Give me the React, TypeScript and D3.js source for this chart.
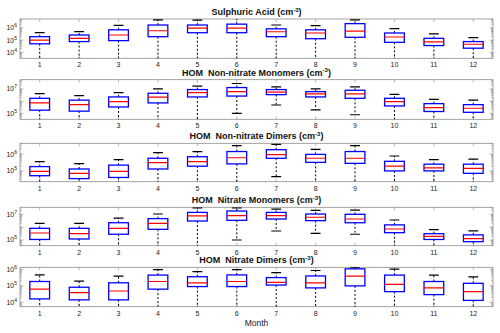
import * as d3 from "d3";
import React from "react";

// box stats per month: [low whisker, q1, median, q3, high whisker] in cm^-3
const months = [1, 2, 3, 4, 5, 6, 7, 8, 9, 10, 11, 12];

const sulphuricAcid = [
  [1e3, 5.0e4, 1.0e5, 1.9e5, 4.0e5],
  [1e3, 7.6e4, 1.4e5, 2.6e5, 5.0e5],
  [1e3, 9.1e4, 2.6e5, 6.9e5, 1.6e6],
  [1e3, 1.9e5, 5.8e5, 1.7e6, 4.4e6],
  [1e3, 4.0e5, 9.5e5, 1.7e6, 4.2e6],
  [1e3, 4.0e5, 9.5e5, 2.0e6, 6.0e6],
  [1e3, 1.9e5, 4.8e5, 8.3e5, 1.7e6],
  [1e3, 1.3e5, 3.8e5, 6.9e5, 1.5e6],
  [1e3, 1.7e5, 5.5e5, 2.2e6, 4.4e6],
  [1e3, 6.6e4, 1.8e5, 3.8e5, 8.7e5],
  [1e3, 3.6e4, 7.2e4, 1.4e5, 3.2e5],
  [1e3, 2.2e4, 4.6e4, 7.6e4, 1.6e5],
];

const nonNitrateMonomers = [
  [1e4, 1.8e5, 7.1e5, 1.7e6, 4.1e6],
  [1e4, 1.5e5, 5.1e5, 1.2e6, 2.8e6],
  [1e4, 3.3e5, 9.1e5, 2.2e6, 5.0e6],
  [1e4, 7.1e5, 2.1e6, 4.4e6, 1.0e7],
  [1e4, 2.2e6, 5.0e6, 8.9e6, 1.7e7],
  [1.0e5, 2.6e6, 6.0e6, 1.3e7, 2.8e7],
  [4.8e5, 3.4e6, 5.4e6, 8.9e6, 1.5e7],
  [1.9e5, 2.2e6, 3.9e6, 6.0e6, 1.0e7],
  [7.6e4, 1.7e6, 3.9e6, 7.8e6, 1.5e7],
  [1e4, 4.0e5, 9.1e5, 1.7e6, 3.6e6],
  [1e4, 1.4e5, 2.9e5, 6.2e5, 1.4e6],
  [1e4, 1.2e5, 2.6e5, 5.1e5, 1.2e6],
];

const nonNitrateDimers = [
  [1e4, 5.2e4, 9.5e4, 1.8e5, 3.5e5],
  [1e4, 3.5e4, 7.2e4, 1.3e5, 2.7e5],
  [1e4, 4.1e4, 9.5e4, 2.2e5, 4.6e5],
  [1e4, 1.3e5, 3.1e5, 5.6e5, 1.2e6],
  [1e4, 1.9e5, 3.5e5, 6.9e5, 1.4e6],
  [1e4, 2.6e5, 6.0e5, 1.4e6, 3.1e6],
  [4.6e4, 5.6e5, 9.1e5, 1.8e6, 3.7e6],
  [1e4, 3.2e5, 5.6e5, 9.5e5, 1.9e6],
  [1e4, 2.8e5, 5.6e5, 1.4e6, 3.1e6],
  [1e4, 1.0e5, 1.9e5, 3.7e5, 7.6e5],
  [1e4, 1.0e5, 1.5e5, 2.5e5, 4.6e5],
  [1e4, 7.2e4, 1.4e5, 2.5e5, 5.0e5],
];

const nitrateMonomers = [
  [1e4, 1.1e5, 3.5e5, 8.1e5, 2.0e6],
  [1e4, 1.2e5, 3.1e5, 8.1e5, 2.0e6],
  [1e4, 2.8e5, 8.1e5, 2.2e6, 5.1e6],
  [1e4, 6.8e5, 2.0e6, 4.6e6, 1.05e7],
  [1e4, 3.0e6, 7.4e6, 1.4e7, 3.2e7],
  [1.0e5, 3.4e6, 7.8e6, 1.8e7, 3.2e7],
  [5.0e5, 4.3e6, 7.8e6, 1.4e7, 2.5e7],
  [3.3e5, 3.2e6, 5.9e6, 1.05e7, 2.0e7],
  [2.8e5, 2.2e6, 4.3e6, 1.0e7, 2.1e7],
  [1e4, 3.7e5, 7.2e5, 1.5e6, 3.6e6],
  [1e4, 1.1e5, 1.9e5, 3.1e5, 6.3e5],
  [1e4, 7.4e4, 1.3e5, 2.5e5, 5.2e5],
];

const nitrateDimers = [
  [1e3, 1.6e4, 6.2e4, 1.8e5, 4.5e5],
  [1e3, 1.4e4, 3.8e4, 8.1e4, 1.9e5],
  [1e3, 1.4e4, 4.8e4, 1.5e5, 3.8e5],
  [1e3, 6.2e4, 1.8e5, 4.4e5, 9.5e5],
  [1e3, 8.9e4, 1.5e5, 3.5e5, 7.1e5],
  [1e3, 8.9e4, 1.8e5, 4.5e5, 9.5e5],
  [1e3, 1.1e5, 1.6e5, 3.1e5, 6.2e5],
  [1e3, 7.4e4, 1.5e5, 3.9e5, 8.3e5],
  [1e3, 9.8e4, 3.8e5, 1.05e6, 1.3e6],
  [1e3, 4.4e4, 1.2e5, 4.4e5, 1.0e6],
  [1e3, 2.9e4, 7.4e4, 1.8e5, 4.4e5],
  [1e3, 1.3e4, 4.4e4, 1.4e5, 3.4e5],
];

const titles = [
  "Sulphuric Acid",
  "HOM  Non-nitrate Monomers",
  "HOM  Non-nitrate Dimers",
  "HOM  Nitrate Monomers",
  "HOM  Nitrate Dimers",
];
const yTickExps = [[4, 5, 6], [5, 7], [5, 6], [5, 7], [4, 5, 6]];

const panels = [
  { data: sulphuricAcid, domain: [3.3e3, 5.25e6], top: 19, bottom: 58.3 },
  { data: nonNitrateMonomers, domain: [3.2e4, 5.75e7], top: 79.7, bottom: 119.3 },
  { data: nonNitrateDimers, domain: [2.3e4, 4.3e6], top: 143.3, bottom: 181.7 },
  { data: nitrateMonomers, domain: [3.6e4, 3.5e7], top: 207.3, bottom: 245.7 },
  { data: nitrateDimers, domain: [5.4e3, 1.3e6], top: 267.3, bottom: 306.7 },
];

const FONT = "'Liberation Sans', Arial, Helvetica, sans-serif";
const left = 20;
const right = 493;

const x = d3.scaleLinear().domain([0.5, 12.5]).range([left, right]);
const boxW = x(1.25) - x(1);
const capW = x(1.125) - x(1);

function Panel({ i }: { i: number }) {
  const p = panels[i];
  const y = d3.scaleLog().domain(p.domain).range([p.bottom, p.top]);
  const clipId = `clip${i}`;
  const [lo, hi] = p.domain;
  const minor: number[] = [];
  for (let e = Math.floor(Math.log10(lo)); e <= Math.ceil(Math.log10(hi)); e++) {
    for (let k = 1; k <= 9; k++) {
      const v = k * Math.pow(10, e);
      if (v >= lo && v <= hi) minor.push(v);
    }
  }
  const axisCol = "#8c8c8c";
  return (
    <g>
      <defs>
        <clipPath id={clipId}>
          <rect x={left} y={p.top} width={right - left} height={p.bottom - p.top} />
        </clipPath>
      </defs>
      <rect x={left} y={p.top} width={right - left} height={p.bottom - p.top} fill="white" stroke={axisCol} strokeWidth={0.8} />
      {minor.map((v, j) => {
        const len = Number.isInteger(Math.log10(v)) ? 3.5 : 2;
        return (
          <g key={j} stroke={axisCol} strokeWidth={0.6}>
            <line x1={left} x2={left + len} y1={y(v)} y2={y(v)} />
            <line x1={right} x2={right - len} y1={y(v)} y2={y(v)} />
          </g>
        );
      })}
      {months.map((m) => (
        <g key={m} stroke={axisCol} strokeWidth={0.6}>
          <line x1={x(m)} x2={x(m)} y1={p.bottom} y2={p.bottom - 3} />
          <line x1={x(m)} x2={x(m)} y1={p.top} y2={p.top + 3} />
        </g>
      ))}
      <g clipPath={`url(#${clipId})`}>
        {p.data.map((d, j) => {
          const cx = x(months[j]);
          const [wl, q1, med, q3, wh] = d;
          return (
            <g key={j}>
              <line x1={cx} x2={cx} y1={y(q3)} y2={y(wh)} stroke="#000" strokeWidth={1} strokeDasharray="2,2" />
              <line x1={cx} x2={cx} y1={y(q1)} y2={y(wl)} stroke="#000" strokeWidth={1} strokeDasharray="2,2" />
              <line x1={cx - capW} x2={cx + capW} y1={y(wh)} y2={y(wh)} stroke="#000" strokeWidth={1.2} />
              <line x1={cx - capW} x2={cx + capW} y1={y(wl)} y2={y(wl)} stroke="#000" strokeWidth={1.2} />
              <rect x={cx - boxW} y={y(q3)} width={boxW * 2} height={y(q1) - y(q3)} fill="none" stroke="#0000ff" strokeWidth={1.3} />
              <line x1={cx - boxW} x2={cx + boxW} y1={y(med)} y2={y(med)} stroke="#ff0000" strokeWidth={1.2} />
            </g>
          );
        })}
      </g>
      {yTickExps[i].map((e) => (
        <text key={e} x={17} y={y(Math.pow(10, e)) + 2.5} fontSize={7} textAnchor="end" fill="#222" fontFamily={FONT}>
          10
          <tspan fontSize={5} dy={-3}>{e}</tspan>
        </text>
      ))}
      {months.map((m) => (
        <text key={m} x={x(m)} y={p.bottom + 9} fontSize={7} textAnchor="middle" fill="#222" fontFamily={FONT}>
          {m}
        </text>
      ))}
      <text x={(left + right) / 2} y={p.top - 4} fontSize={9} fontWeight="bold" textAnchor="middle" fill="#111" fontFamily={FONT} style={{ whiteSpace: "pre" }}>
        {titles[i]} (cm
        <tspan fontSize={6} dy={-3.5}>-3</tspan>
        <tspan dy={3.5}>)</tspan>
      </text>
    </g>
  );
}

export default function App() {
  return (
    <svg width={500} height={333} style={{ position: "absolute", left: 0, top: 0, background: "#fff" }}>
      <rect width={500} height={333} fill="#fff" />
      {panels.map((_, i) => (
        <Panel key={i} i={i} />
      ))}
      <text x={(left + right) / 2} y={326} fontSize={8.5} textAnchor="middle" fill="#222" fontFamily={FONT}>
        Month
      </text>
    </svg>
  );
}
